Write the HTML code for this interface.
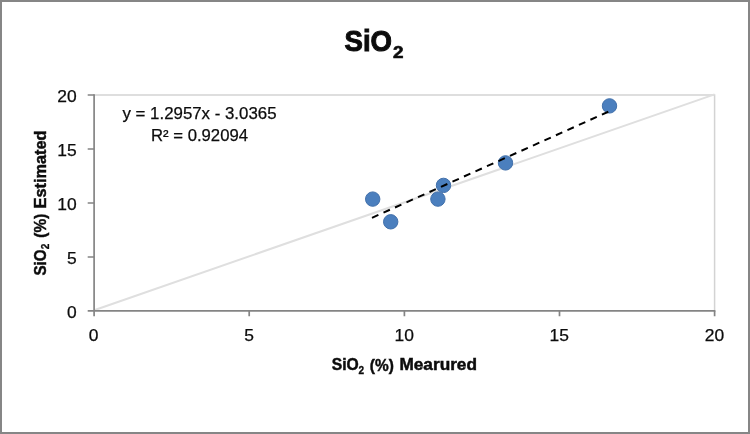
<!DOCTYPE html>
<html>
<head>
<meta charset="utf-8">
<title>SiO2</title>
<style>
html,body{margin:0;padding:0;background:#fff;}
body{width:750px;height:434px;overflow:hidden;font-family:"Liberation Sans",sans-serif;}
svg{display:block;}
text{font-family:"Liberation Sans",sans-serif;fill:#0c0c0c;}
.r{stroke:#0c0c0c;stroke-width:0.25;}
.b{font-weight:bold;stroke:#0c0c0c;stroke-width:0.45;}
</style>
</head>
<body>
<svg width="750" height="434" viewBox="0 0 750 434">
  <rect x="0" y="0" width="750" height="434" fill="#fff"/>
  <!-- outer frame -->
  <rect x="1" y="1" width="748" height="432" fill="none" stroke="#868686" stroke-width="2"/>
  <!-- plot area border -->
  <path d="M94.1 95 H714.6 V311" fill="none" stroke="#d3d3d3" stroke-width="1.5"/>
  <!-- 1:1 line -->
  <line x1="94.1" y1="310.3" x2="714.6" y2="94.4" stroke="#dfdfdf" stroke-width="2"/>
  <!-- axes -->
  <g stroke="#848484" stroke-width="1.7" fill="none">
    <path d="M94.1 94.2 V316.2"/>
    <path d="M87.7 310.9 H715.4"/>
    <path d="M87.7 95 H94.1 M87.7 149 H94.1 M87.7 203 H94.1 M87.7 257 H94.1"/>
    <path d="M249.2 310.9 V316.2 M404.4 310.9 V316.2 M559.5 310.9 V316.2 M714.6 310.9 V316.2"/>
  </g>
  <!-- markers -->
  <g fill="#4b7fbe" stroke="#4170ab" stroke-width="1">
    <circle cx="372.7" cy="199.1" r="7.2"/>
    <circle cx="390.7" cy="221.8" r="7.2"/>
    <circle cx="437.9" cy="199.1" r="7.2"/>
    <circle cx="443.5" cy="185.4" r="7.2"/>
    <circle cx="505.5" cy="162.9" r="7.2"/>
    <circle cx="609.5" cy="105.9" r="7.2"/>
  </g>
  <!-- trendline -->
  <line x1="372" y1="217.8" x2="609.5" y2="111.2" stroke="#000" stroke-width="2" stroke-dasharray="7 5.6"/>
  <!-- title -->
  <text class="b" style="stroke-width:1" x="344.5" y="51.2" font-size="30" textLength="47.5" lengthAdjust="spacingAndGlyphs">SiO</text>
  <text class="b" style="stroke-width:0.6" x="393" y="58.3" font-size="16.2" textLength="10.5" lengthAdjust="spacingAndGlyphs">2</text>
  <!-- y tick labels -->
  <g class="r" font-size="16.5" text-anchor="end">
    <text x="76.7" y="101.5" textLength="19.4" lengthAdjust="spacingAndGlyphs">20</text>
    <text x="76.7" y="155.5" textLength="19.4" lengthAdjust="spacingAndGlyphs">15</text>
    <text x="76.7" y="209.5" textLength="19.4" lengthAdjust="spacingAndGlyphs">10</text>
    <text x="76.7" y="263.5" textLength="9.7" lengthAdjust="spacingAndGlyphs">5</text>
    <text x="76.7" y="317.5" textLength="9.7" lengthAdjust="spacingAndGlyphs">0</text>
  </g>
  <!-- x tick labels -->
  <g class="r" font-size="16.5" text-anchor="middle">
    <text x="93.7" y="341.3" textLength="9.7" lengthAdjust="spacingAndGlyphs">0</text>
    <text x="249.2" y="341.3" textLength="9.7" lengthAdjust="spacingAndGlyphs">5</text>
    <text x="404.2" y="341.3" textLength="19.4" lengthAdjust="spacingAndGlyphs">10</text>
    <text x="559.3" y="341.3" textLength="19.4" lengthAdjust="spacingAndGlyphs">15</text>
    <text x="714.4" y="341.3" textLength="19.4" lengthAdjust="spacingAndGlyphs">20</text>
  </g>
  <!-- equation -->
  <text class="r" x="122.5" y="119" font-size="16.5" textLength="154" lengthAdjust="spacingAndGlyphs">y = 1.2957x - 3.0365</text>
  <text class="r" x="151" y="140.6" font-size="16.5" textLength="97" lengthAdjust="spacingAndGlyphs">R² = 0.92094</text>
  <!-- x axis title -->
  <g class="b" font-size="15.7">
    <text x="331.7" y="370.4" textLength="27" lengthAdjust="spacingAndGlyphs">SiO</text>
    <text x="358.5" y="374" font-size="11" textLength="5.6" lengthAdjust="spacingAndGlyphs" style="stroke-width:0.3">2</text>
    <text x="369.8" y="370.6" font-size="16.5" textLength="24" lengthAdjust="spacingAndGlyphs">(%)</text>
    <text x="399.4" y="370.4" textLength="77.6" lengthAdjust="spacingAndGlyphs">Mearured</text>
  </g>
  <!-- y axis title -->
  <g class="b" font-size="15.7" transform="translate(45.5 275.5) rotate(-90)">
    <text x="0" y="0" textLength="26" lengthAdjust="spacingAndGlyphs">SiO</text>
    <text x="26.2" y="3.9" font-size="11" textLength="5.6" lengthAdjust="spacingAndGlyphs" style="stroke-width:0.3">2</text>
    <text x="37.8" y="0.3" font-size="16.5" textLength="24" lengthAdjust="spacingAndGlyphs">(%)</text>
    <text x="67" y="0" textLength="78" lengthAdjust="spacingAndGlyphs">Estimated</text>
  </g>
</svg>
</body>
</html>
